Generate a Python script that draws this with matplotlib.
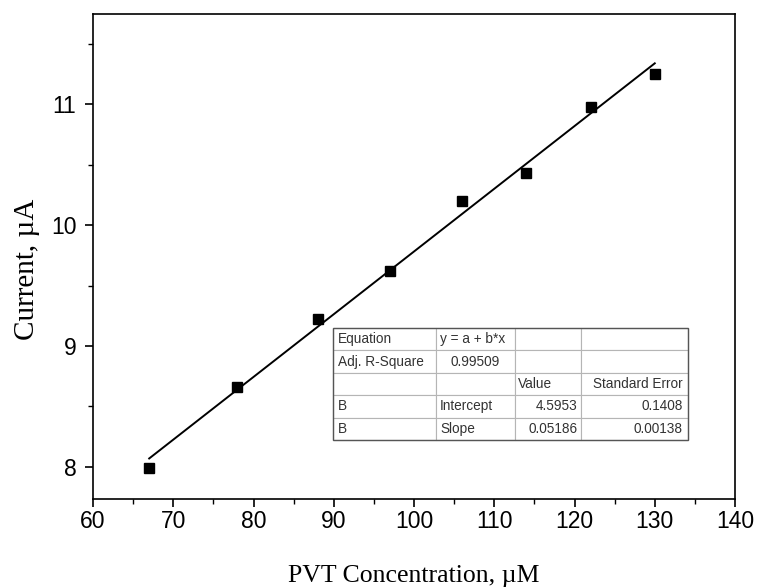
import numpy as np
import matplotlib.pyplot as plt
from matplotlib.table import Table

# calibration data
conc = [67, 78, 88, 97, 106, 114, 122, 130]
current = [7.99, 8.66, 9.22, 9.62, 10.20, 10.43, 10.98, 11.25]

# linear fit results
intercept = 4.5953
slope = 0.05186
adj_r2 = "0.99509"
intercept_err = "0.1408"
slope_err = "0.00138"

fig = plt.figure(figsize=(7.58, 5.88), dpi=100)
ax = fig.add_axes([0.1227, 0.1514, 0.8470, 0.8248])

ax.plot(conc, current, "s", color="black", markersize=6.5)
xf = np.array([conc[0], conc[-1]])
ax.plot(xf, intercept + slope * xf, "-", color="black", lw=1.4)

ax.set_xlim(60, 140)
ax.set_ylim(7.735, 11.745)
ax.set_xticks(np.arange(60, 141, 10))
ax.set_xticks(np.arange(65, 140, 10), minor=True)
ax.set_yticks([8, 9, 10, 11])
ax.set_yticks([8.5, 9.5, 10.5, 11.5], minor=True)
ax.tick_params(which="major", direction="out", length=6, width=1.2,
               labelsize=16.5)
ax.tick_params(axis="x", which="major", pad=2)
ax.tick_params(axis="y", which="major", pad=6)
ax.tick_params(which="minor", direction="out", length=3.5, width=1.0)
for lab in ax.get_xticklabels() + ax.get_yticklabels():
    lab.set_family("Liberation Sans")
for sp in ax.spines.values():
    sp.set_linewidth(1.2)

ax.set_xlabel("PVT Concentration, \u00b5M", family="Liberation Serif",
              fontsize=18.5, labelpad=23)
ax.set_ylabel("Current, \u00b5A", family="Liberation Serif", fontsize=21)
ax.yaxis.set_label_coords(-0.083, 0.474)

# fit summary table
rows = [
    [("Equation", "left"), ("y = a + b*x", "left"), ("", "left"), ("", "left")],
    [("Adj. R-Square", "left"), (adj_r2, "center"), ("", "left"), ("", "left")],
    [("", "left"), ("", "left"), ("Value", "left"), ("Standard Error", "right")],
    [("B", "left"), ("Intercept", "left"), (f"{intercept:.4f}", "right"),
     (intercept_err, "right")],
    [("B", "left"), ("Slope", "left"), (f"{slope:.5f}", "right"),
     (slope_err, "right")],
]
widths = np.array([103, 79, 66, 107]) / 355.0
tbl = Table(ax, bbox=[0.3738, 0.1216, 0.553, 0.231])
for r, row in enumerate(rows):
    for c, (txt, loc) in enumerate(row):
        cell = tbl.add_cell(r, c, width=widths[c], height=0.2, text=txt,
                            loc=loc, facecolor="white", edgecolor="#b5b5b5")
        cell.set_linewidth(0.8)
        cell.PAD = 0.05
        cell.get_text().set_fontsize(9.8)
        cell.get_text().set_family("Liberation Sans")
        cell.get_text().set_color("#333333")
tbl.auto_set_font_size(False)
ax.add_table(tbl)

# darker outer frame around the table
ax.add_patch(plt.Rectangle((0.3738, 0.1216), 0.553, 0.231, fill=False,
                           transform=ax.transAxes, edgecolor="#555555",
                           lw=1.0, zorder=5))

fig.savefig("out.png", dpi=100)
